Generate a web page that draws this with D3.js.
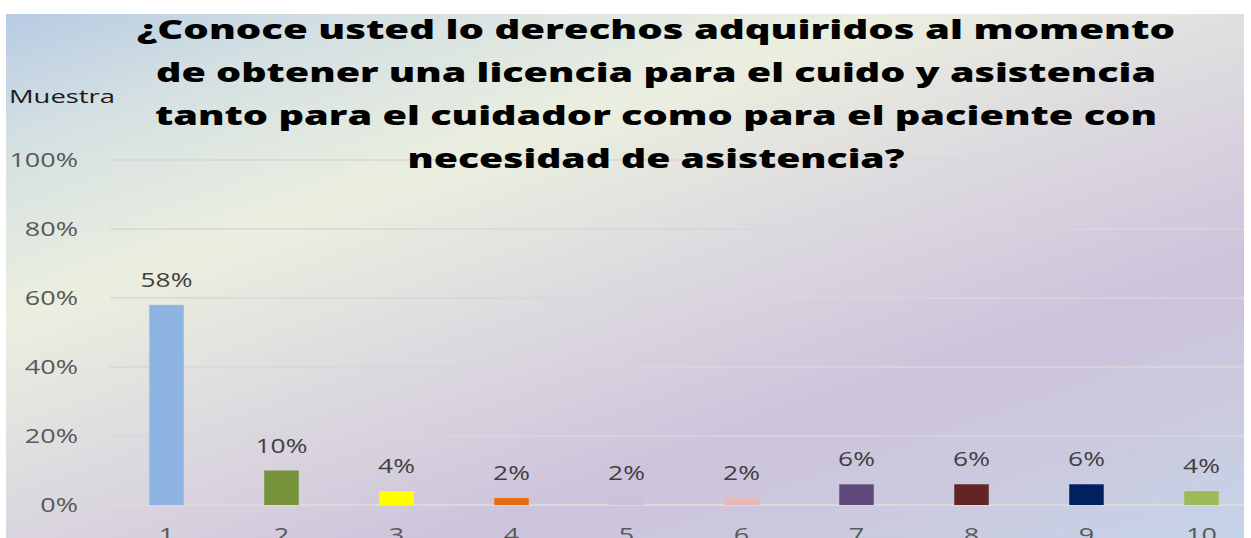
<!DOCTYPE html>
<html>
<head>
<meta charset="utf-8">
<script src="https://cdn.jsdelivr.net/npm/d3@7"></script>
<style>
  html, body { margin: 0; padding: 0; background: #ffffff; }
  svg { display: block; }
  text { font-family: "Open Sans", "Noto Sans", sans-serif; }
</style>
</head>
<body>
<svg id="chart" width="1251" height="538"></svg>
<script>
// Survey answers (sample share per respondent group)
const categories = ["1", "2", "3", "4", "5", "6", "7", "8", "9", "10"];
const values = [0.58, 0.10, 0.04, 0.02, 0.02, 0.02, 0.06, 0.06, 0.06, 0.04];
const barColors = ["#8eb4e3", "#77933c", "#ffff00", "#e46c0a", "#ccc1da",
                   "#e6b9b8", "#604a7b", "#632523", "#002060", "#9bbb59"];
const yTicks = [0, 0.2, 0.4, 0.6, 0.8, 1.0];
const titleLines = [
  "¿Conoce usted lo derechos adquiridos al momento",
  "de obtener una licencia para el cuido y asistencia",
  "tanto para el cuidador como para el paciente con",
  "necesidad de asistencia?"
];
const titleWidths = [1038, 1000, 1002, 497];
const yAxisTitle = "Muestra";

const svg = d3.select("#chart");
const W = 1251, H = 538;
const stretch = 1.35; // horizontal stretch of the rendered text

// Background gradient of the chart area
const defs = svg.append("defs");
const grad = defs.append("linearGradient")
  .attr("id", "bg")
  .attr("gradientUnits", "userSpaceOnUse")
  .attr("x1", 0).attr("y1", 0).attr("x2", 312).attr("y2", 891);
[[0, "#b3c8e3"], [0.14, "#d3dfe2"], [0.32, "#ebefdf"], [0.5, "#dddadf"],
 [0.7, "#cdc3dc"], [0.85, "#cbcbe0"], [1, "#c4d5ea"]].forEach(([o, c]) =>
  grad.append("stop").attr("offset", o).attr("stop-color", c));

svg.append("rect")
  .attr("x", 6).attr("y", 14)
  .attr("width", 1238).attr("height", H - 14)
  .attr("fill", "url(#bg)");

const x = d3.scaleBand()
  .domain(categories)
  .range([109, 1259])
  .paddingInner(0.7)
  .paddingOuter(0.35);

const y = d3.scaleLinear().domain([0, 1]).range([505, 160]);

// Gridlines
svg.append("g")
  .selectAll("line")
  .data(yTicks)
  .join("line")
  .attr("x1", 110).attr("x2", 1244)
  .attr("y1", d => y(d)).attr("y2", d => y(d))
  .attr("stroke", d => d === 0 ? "#dcdad8" : "#d8d6da")
  .attr("stroke-width", d => d === 0 ? 2 : 1.5);

// Y tick labels
svg.append("g")
  .selectAll("text")
  .data(yTicks)
  .join("text")
  .attr("transform", d => `translate(78,${y(d) + 7}) scale(${stretch},1)`)
  .attr("text-anchor", "end")
  .attr("font-size", 20)
  .attr("fill", "#595959")
  .text(d => d3.format(".0%")(d));

// Axis title
svg.append("text")
  .attr("x", 9).attr("y", 102.5)
  .attr("font-size", 17.5)
  .attr("fill", "#1a1a1a")
  .attr("textLength", 106)
  .attr("lengthAdjust", "spacingAndGlyphs")
  .text(yAxisTitle);

// Bars
svg.append("g")
  .selectAll("rect")
  .data(values)
  .join("rect")
  .attr("x", (d, i) => x(categories[i]))
  .attr("y", d => y(d))
  .attr("width", x.bandwidth())
  .attr("height", d => y(0) - y(d))
  .attr("fill", (d, i) => barColors[i]);

// Value labels
svg.append("g")
  .selectAll("text")
  .data(values)
  .join("text")
  .attr("transform", (d, i) =>
    `translate(${x(categories[i]) + x.bandwidth() / 2},${y(d) - 18}) scale(${stretch},1)`)
  .attr("text-anchor", "middle")
  .attr("font-size", 19.5)
  .attr("fill", "#404040")
  .text(d => d3.format(".0%")(d));

// Category labels
svg.append("g")
  .selectAll("text")
  .data(categories)
  .join("text")
  .attr("transform", d => `translate(${x(d) + x.bandwidth() / 2},541.5) scale(${stretch},1)`)
  .attr("text-anchor", "middle")
  .attr("font-size", 20)
  .attr("fill", "#595959")
  .text(d => d);

// Title
svg.append("g")
  .selectAll("text")
  .data(titleLines)
  .join("text")
  .attr("x", (d, i) => 656 - titleWidths[i] / 2)
  .attr("y", (d, i) => 39 + i * 43)
  .attr("font-size", 27)
  .attr("font-weight", 800)
  .attr("fill", "#000000")
  .attr("textLength", (d, i) => titleWidths[i])
  .attr("lengthAdjust", "spacingAndGlyphs")
  .text(d => d);
</script>
</body>
</html>
